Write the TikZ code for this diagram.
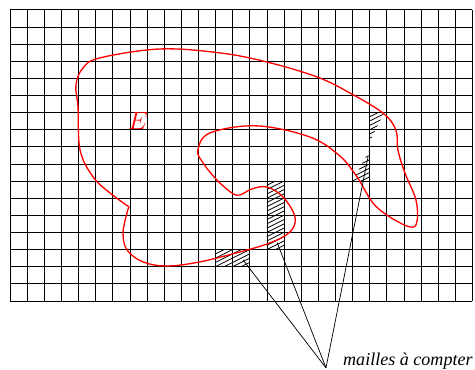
\documentclass[tikz,border=0pt]{standalone}
\usepackage{fontspec}
\setmainfont{Liberation Serif}
\usetikzlibrary{positioning}
\definecolor{contour}{HTML}{FF0000}
\tikzset{
  grille/.style={line width=0.5pt, black, step=0.5cm},
  bord/.style={line width=1.1pt, contour},
  hachure/.style={line width=0.65pt, black},
  renvoi/.style={line width=0.6pt, black},
}
% hatching of a region #1 whose lower left corner is (#2,#3)
\newcommand{\hachurer}[3]{%
  \begin{scope}
    \clip #1;
    \foreach \k in {0,...,30} {
      \draw[hachure] ({#2-1},{#3-3+0.25*\k}) -- ++(4,2);
    }
  \end{scope}}

\begin{document}
\begin{tikzpicture}[x=0.5cm, y=0.5cm]
    \useasboundingbox (-0.584,-4.03) rectangle (27.15,17.57);

    % Grid
    \draw[grille] (0,0) grid (27,17);

    % Meshes to count
    \hachurer{(12,2) rectangle (14,3)}{12}{2}
    \hachurer{(15,3) rectangle (16,7)}{15}{3}
    \hachurer{(21,11) -- (21.85,11) -- (21,9.3) -- cycle}{21}{9}
    \hachurer{(21,8.8) -- (20,7) -- (21,7) -- cycle}{20}{7}

    % Set E
    \draw[bord] plot[smooth, tension=0.6] coordinates {
        (6.95,5.49) (5.84,6.30) (4.85,7.24) (4.09,8.81) (3.97,11.33) (3.85,12.61)
        (4.26,13.60) (5.25,14.19) (8.76,14.71) (12.26,14.48) (15.00,13.95)
        (17.92,13.08) (19.85,12.14) (21.77,10.97) (22.53,9.98) (22.65,8.81)
        (23.06,7.47) (23.70,5.90) (23.76,4.61) (23.35,4.32) (22.18,4.90)
        (21.19,5.72) (20.26,7.24) (19.26,8.46) (17.51,9.57) (14.42,10.22)
        (11.68,9.81) (10.97,8.81) (11.27,8.06) (12.08,7.06) (12.96,6.30)
        (13.43,6.19) (14.13,6.54) (15.00,6.65) (15.94,6.07) (16.64,4.90)
        (16.35,4.03) (15.18,3.39) (13.43,2.86) (11.09,2.28) (9.17,2.04)
        (7.76,2.28) (6.83,2.98) (6.60,3.97) (6.83,5.14) (6.95,5.49)};
    \node[contour, font=\fontsize{21}{25}\selectfont] (nomE) at (7.47,10.51) {$E$};

    % Label and pointers
    \coordinate (apex) at (18.45,-3.91);
    \node[anchor=base west, inner sep=0pt, font=\fontsize{15}{18}\selectfont\itshape]
        (mailles) at (19.44,-3.75) {mailles à compter};
    \coordinate (m1) at (13.6,2.4);
    \coordinate (m2) at (15.6,3.4);
    \coordinate (m3) at (20.9,8.4);
    \foreach \m in {m1,m2,m3} {
        \draw[renvoi] (apex) -- (\m);
    }
\end{tikzpicture}
\end{document}
